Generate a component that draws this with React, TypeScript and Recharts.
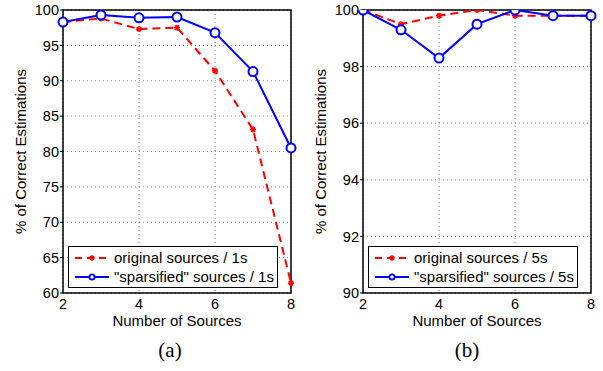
import React from 'react';
import { LineChart, Line, XAxis, YAxis, CartesianGrid, Legend, ReferenceArea } from 'recharts';

const sources = [2, 3, 4, 5, 6, 7, 8];
const original1s = [98.3, 98.8, 97.3, 97.5, 91.4, 83.1, 61.4];
const sparsified1s = [98.3, 99.3, 98.9, 99.0, 96.8, 91.3, 80.5];
const original5s = [100, 99.5, 99.8, 100, 99.8, 99.8, 99.8];
const sparsified5s = [100, 99.3, 98.3, 99.5, 100, 99.8, 99.8];

const xTicks = [2, 4, 6, 8];
const yTicksA = [60, 65, 70, 75, 80, 85, 90, 95, 100];
const yTicksB = [90, 92, 94, 96, 98, 100];

const FONT = '"Liberation Sans", Arial, sans-serif';
const RED = '#ff0000';
const BLUE = '#0000ff';

const toRows = (orig: number[], sparse: number[]) =>
  sources.map((s, i) => ({ n: s, original: orig[i], sparsified: sparse[i] }));

const StarDot = (props: any) => {
  const { cx, cy, r = 3.5 } = props;
  if (cx == null || cy == null) return null;
  const d = r * 0.72;
  return (
    <g stroke={RED} strokeWidth={1.6}>
      <line x1={cx - r} y1={cy} x2={cx + r} y2={cy} />
      <line x1={cx} y1={cy - r} x2={cx} y2={cy + r} />
      <line x1={cx - d} y1={cy - d} x2={cx + d} y2={cy + d} />
      <line x1={cx - d} y1={cy + d} x2={cx + d} y2={cy - d} />
    </g>
  );
};

const CircleDot = (props: any) => {
  const { cx, cy } = props;
  if (cx == null || cy == null) return null;
  return <circle cx={cx} cy={cy} r={4.5} fill="#fff" stroke={BLUE} strokeWidth={2} />;
};

const makeLegend = (suffix: string) => () => (
  <div
    style={{
      border: '1.5px solid #000',
      background: '#fff',
      fontFamily: FONT,
      fontSize: 15,
      lineHeight: '19px',
      padding: '1px 0 1px 4px',
      color: '#000',
      textAlign: 'left',
    }}
  >
    <div style={{ display: 'flex', alignItems: 'center' }}>
      <svg width={38} height={12}>
        <line x1={2} y1={6} x2={36} y2={6} stroke={RED} strokeWidth={2} strokeDasharray="7 5" />
        <StarDot cx={19} cy={6} r={2.8} />
      </svg>
      <span style={{ marginLeft: 3 }}>original sources / {suffix}</span>
    </div>
    <div style={{ display: 'flex', alignItems: 'center' }}>
      <svg width={38} height={12}>
        <line x1={2} y1={6} x2={36} y2={6} stroke={BLUE} strokeWidth={2} />
        <circle cx={19} cy={6} r={2.6} fill="#fff" stroke={BLUE} strokeWidth={1.8} />
      </svg>
      <span style={{ marginLeft: 3 }}>"sparsified" sources / {suffix}</span>
    </div>
  </div>
);

interface PanelProps {
  data: { n: number; original: number; sparsified: number }[];
  yTicks: number[];
  suffix: string;
}

const Panel: React.FC<PanelProps> = ({ data, yTicks, suffix }) => {
  const yMin = yTicks[0];
  const yMax = yTicks[yTicks.length - 1];
  return (
    <LineChart width={300} height={329} data={data} margin={{ top: 10, right: 9, left: 0, bottom: 0 }}>
      <CartesianGrid stroke="#888" strokeDasharray="1 3" />
      <XAxis
        dataKey="n"
        type="number"
        domain={[2, 8]}
        ticks={xTicks}
        height={36}
        tickLine={false}
        axisLine={false}
        tick={{ fill: '#000', fontSize: 14.5, fontFamily: FONT }}
        tickSize={4}
        tickMargin={2}
        label={{ value: 'Number of Sources', position: 'insideBottom', offset: 3, fill: '#000', fontSize: 15, fontFamily: FONT }}
      />
      <YAxis
        type="number"
        domain={[yMin, yMax]}
        ticks={yTicks}
        width={63}
        tickLine={{ stroke: '#000' }}
        axisLine={false}
        tick={{ fill: '#000', fontSize: 14.5, fontFamily: FONT }}
        tickSize={3}
        tickMargin={1}
        allowDataOverflow
        label={{
          value: '% of Correct Estimations',
          angle: -90,
          position: 'insideLeft',
          offset: 21,
          fill: '#000',
          fontSize: 15,
          fontFamily: FONT,
          style: { textAnchor: 'middle' },
        }}
      />
      <ReferenceArea x1={2} x2={8} y1={yMin} y2={yMax} fill="none" stroke="#000" strokeWidth={1.5} />
      <Line
        dataKey="original"
        stroke={RED}
        strokeWidth={2}
        strokeDasharray="8 5"
        dot={<StarDot />}
        isAnimationActive={false}
      />
      <Line
        dataKey="sparsified"
        stroke={BLUE}
        strokeWidth={2}
        dot={<CircleDot />}
        isAnimationActive={false}
      />
      <Legend
        layout="vertical"
        align="center"
        verticalAlign="middle"
        content={makeLegend(suffix)}
        wrapperStyle={{ left: 68, top: 246, width: 210 }}
      />
    </LineChart>
  );
};

const captionStyle: React.CSSProperties = {
  position: 'absolute',
  top: 338,
  width: 60,
  textAlign: 'center',
  fontFamily: '"Liberation Serif", "Times New Roman", serif',
  fontSize: 21,
  color: '#000',
};

export default function App() {
  return (
    <div style={{ position: 'absolute', left: 0, top: 0, width: 603, height: 371, background: '#fff', overflow: 'hidden' }}>
      <div style={{ position: 'absolute', left: 0, top: 0 }}>
        <Panel data={toRows(original1s, sparsified1s)} yTicks={yTicksA} suffix="1s" />
      </div>
      <div style={{ position: 'absolute', left: 300, top: 0 }}>
        <Panel data={toRows(original5s, sparsified5s)} yTicks={yTicksB} suffix="5s" />
      </div>
      <div style={{ ...captionStyle, left: 140 }}>(a)</div>
      <div style={{ ...captionStyle, left: 437 }}>(b)</div>
    </div>
  );
}
